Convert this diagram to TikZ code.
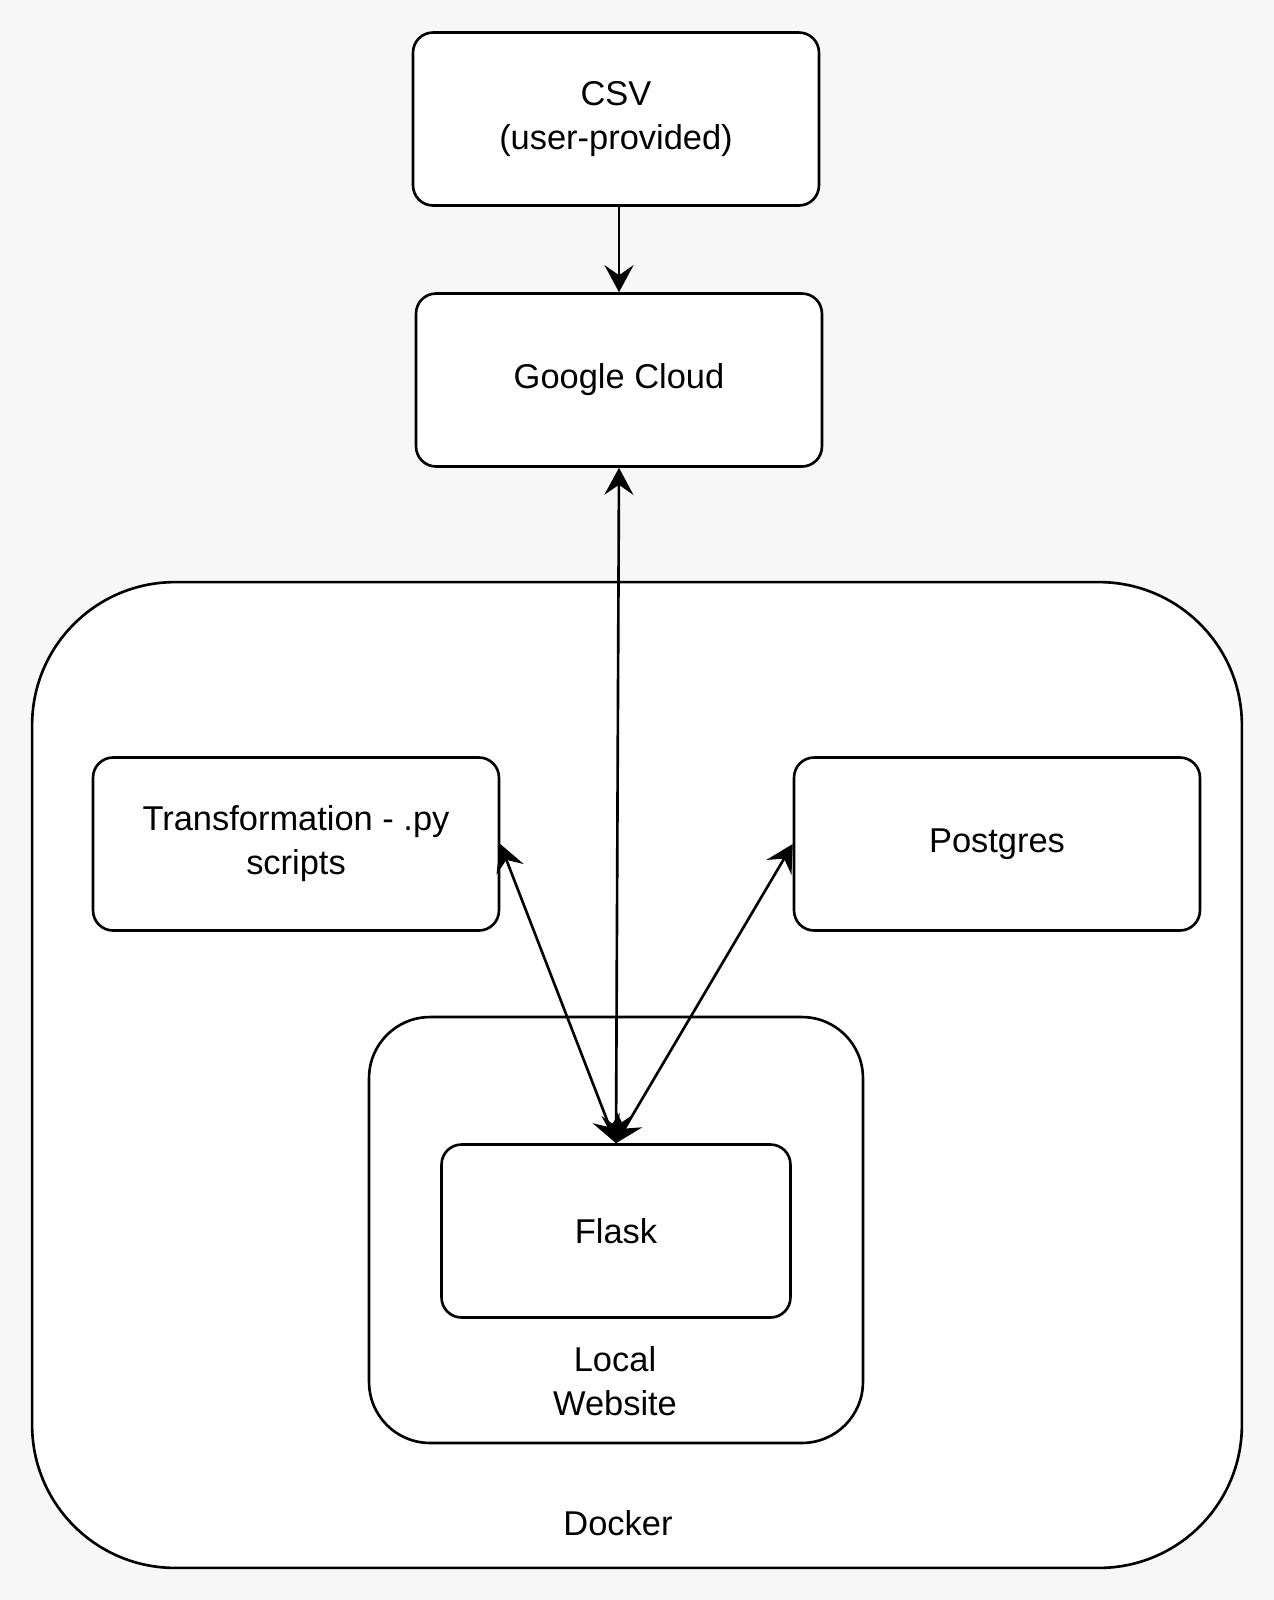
\documentclass[tikz,border=0pt]{standalone}
\usepackage{fontspec}
\setmainfont{Liberation Sans}
\usepackage{xcolor}
\usepackage{tikz}
\usetikzlibrary{arrows.meta,positioning}
\definecolor{bggray}{HTML}{F7F7F7}

\begin{document}
\begin{tikzpicture}[
  x=0.02cm, y=-0.02cm,
  box/.style={rectangle, draw, fill=white, rounded corners=0.4cm, line width=1.5pt,
    minimum width=8.12cm, minimum height=3.46cm, align=center,
    font=\fontsize{19.6}{25}\selectfont},
  container/.style={rectangle, draw, fill=white, line width=1.5pt},
  lbl/.style={align=center, font=\fontsize{19.6}{25}\selectfont},
  link/.style={line width=1.5pt, -{Stealth[length=0.54cm, width=0.58cm, inset=0.2cm]}},
  dlink/.style={line width=1.5pt, {Stealth[length=0.54cm, width=0.58cm, inset=0.2cm]}-{Stealth[length=0.54cm, width=0.58cm, inset=0.2cm]}}
]
  \fill[bggray] (0,0) rectangle (1274,1600);
  \useasboundingbox (0,0) rectangle (1274,1600);

  \node[box] (csv) at (616,119) {CSV\\(user-provided)};
  \node[box] (gcloud) at (619,380) {Google Cloud};

  % docker and local website containers
  \node[container, rounded corners=2.86cm, minimum width=24.2cm,
    minimum height=19.72cm] (docker) at (637,1075) {};
  \node[lbl] (dockerlbl) at (618,1523) {Docker};

  \node[box] (transform) at (296,844) {Transformation - .py\\scripts};
  \node[box] (postgres) at (997,844) {Postgres};

  \node[container, rounded corners=1.22cm, minimum width=9.88cm,
    minimum height=8.52cm] (website) at (616,1230) {};
  \node[box, minimum width=6.98cm] (flask) at (616,1231) {Flask};
  \node[lbl] (websitelbl) at (615,1381) {Local\\Website};

  \draw[link] (gcloud.north |- csv.south) -- (gcloud.north);
  \draw[dlink] (gcloud.south) -- (flask.north);
  \draw[dlink] (transform.east) -- (flask.north);
  \draw[dlink] (postgres.west) -- (flask.north);
\end{tikzpicture}
\end{document}
